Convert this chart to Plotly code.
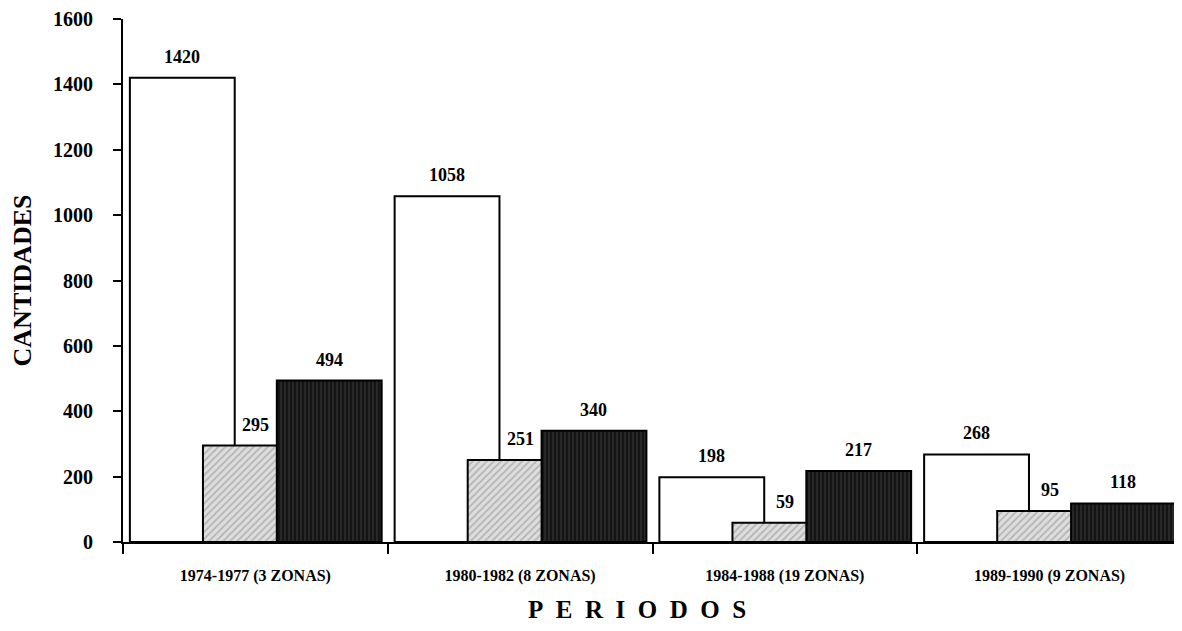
import plotly.graph_objects as go

# data
periodos = ["1974-1977 (3 ZONAS)", "1980-1982 (8 ZONAS)", "1984-1988 (19 ZONAS)", "1989-1990 (9 ZONAS)"]
serie_a = [1420, 1058, 198, 268]
serie_b = [295, 251, 59, 95]
serie_c = [494, 340, 217, 118]

serif = "Liberation Serif, Times New Roman, serif"
ancho = 0.396
offsets = [-0.474, -0.198, 0.081]

fig = go.Figure()

# white bars
fig.add_trace(go.Bar(
    x=periodos, y=serie_a, width=ancho, offset=offsets[0],
    marker=dict(color="white", line=dict(color="black", width=2)),
))
# light hatched bars
fig.add_trace(go.Bar(
    x=periodos, y=serie_b, width=ancho, offset=offsets[1],
    marker=dict(color="#dcdcdc", line=dict(color="black", width=2),
                pattern=dict(shape="/", fgcolor="#8c8c8c", bgcolor="#dedede", size=5, solidity=0.35)),
))
# dark textured bars
fig.add_trace(go.Bar(
    x=periodos, y=serie_c, width=ancho, offset=offsets[2],
    marker=dict(color="#1c1c1c", line=dict(color="black", width=2),
                pattern=dict(shape="|", fgcolor="#555555", bgcolor="#141414", size=4, solidity=0.3)),
))

fig.update_traces(showlegend=False)

# value labels over each bar (centered on the full bar width)
for serie, off in zip([serie_a, serie_b, serie_c], offsets):
    for i, v in enumerate(serie):
        fig.add_annotation(
            x=i + off + ancho / 2, y=v, text=f"<b>{v}</b>",
            showarrow=False, yanchor="bottom", yshift=9,
            font=dict(family=serif, size=18, color="black"),
        )

# axis title below, letter spaced
fig.add_annotation(
    x=0.485, xref="paper", y=-0.13, yref="paper", yanchor="middle",
    text="<b>" + "\u2002".join("PERIODOS") + "</b>",
    showarrow=False, font=dict(family=serif, size=25, color="black"),
)

# page body has an 8px margin, so the figure is sized to fit inside it
fig.update_layout(
    width=1174, height=623,
    margin=dict(l=115, r=0, t=11, b=89),
    barmode="overlay",
    paper_bgcolor="white",
    plot_bgcolor="white",
    font=dict(family=serif, color="black"),
)

fig.update_xaxes(
    range=[-0.5, 3.5], automargin=False,
    showline=True, linecolor="black", linewidth=2,
    ticks="outside", tickson="boundaries", ticklen=10, tickwidth=2, tickcolor="black",
    tickfont=dict(family=serif, size=16, color="black", weight="bold"),
    ticklabelstandoff=18,
    showgrid=False,
)

fig.update_yaxes(
    range=[0, 1600], dtick=200, automargin=False,
    showline=True, linecolor="black", linewidth=2,
    ticks="outside", ticklen=8, tickwidth=2, tickcolor="black",
    tickfont=dict(family=serif, size=20, color="black", weight="bold"),
    ticklabelstandoff=16,
    showgrid=False, zeroline=False,
    title=dict(text="<b>CANTIDADES</b>", font=dict(family=serif, size=26), standoff=40),
)

fig.write_html("out.html")
